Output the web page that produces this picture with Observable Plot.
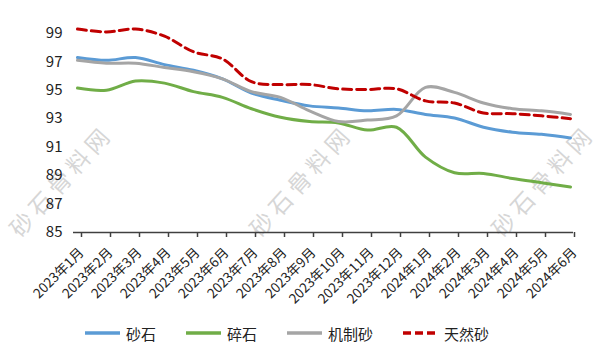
<!DOCTYPE html>
<html><head><meta charset="utf-8">
<script src="https://cdn.jsdelivr.net/npm/d3@7"></script>
<script src="https://cdn.jsdelivr.net/npm/@observablehq/plot@0.6"></script>
<style>
body{margin:0;background:#fff;font-family:"Noto Sans CJK SC","Noto Sans",sans-serif;}
#wrap{position:relative;width:600px;height:360px;overflow:hidden;background:#fff;}
#chart{position:absolute;left:0;top:0;}
.wm{position:absolute;font-size:23px;color:#d6d6d6;white-space:nowrap;letter-spacing:5px;transform-origin:center center;transform:translate(-50%,-50%) rotate(-48deg);pointer-events:none;}
#legend{position:absolute;left:-13px;top:320px;width:600px;height:26px;display:flex;justify-content:center;align-items:center;font-size:15px;color:#222;}
.item{display:flex;align-items:center;margin:0 15px;}
.item svg{margin-right:6px;}
</style></head>
<body>
<div id="wrap"><div id="chart"></div><div id="legend"></div></div>
<script>
const months = ["2023年1月","2023年2月","2023年3月","2023年4月","2023年5月","2023年6月","2023年7月","2023年8月","2023年9月","2023年10月","2023年11月","2023年12月","2024年1月","2024年2月","2024年3月","2024年4月","2024年5月","2024年6月"];
const seriesNames = ["砂石","碎石","机制砂","天然砂"];
const seriesColors = ["#5B9BD5","#70AD47","#A5A5A5","#C00000"];
const shashi = [97.3,97.1,97.3,96.8,96.4,95.8,94.8,94.3,93.9,93.75,93.55,93.65,93.3,93.05,92.4,92.05,91.9,91.65];
const suishi = [95.15,95.0,95.65,95.5,94.9,94.5,93.7,93.1,92.8,92.7,92.2,92.4,90.3,89.2,89.15,88.8,88.5,88.2];
const jizhisha = [97.1,96.9,96.9,96.6,96.3,95.8,94.9,94.5,93.55,92.8,92.9,93.2,95.2,94.85,94.1,93.7,93.55,93.3];
const tianransha = [99.3,99.1,99.3,98.8,97.7,97.2,95.6,95.4,95.4,95.1,95.05,95.1,94.25,94.1,93.4,93.35,93.2,93.0];
const yTicks = [85,87,89,91,93,95,97,99];
const watermark = "砂石骨料网";

const values = [shashi, suishi, jizhisha, tianransha];
const rows = [];
values.forEach((arr, s) => arr.forEach((v, i) => rows.push({month: months[i], value: v, series: seriesNames[s]})));

const H = 310;
const plot = Plot.plot({
  width: 600, height: H,
  marginLeft: 73, marginRight: 27, marginTop: 18.6, marginBottom: H - 232,
  style: {fontFamily: '"Noto Sans CJK SC","Noto Sans",sans-serif', fontSize: "14px", color: "#222", background: "transparent", overflow: "visible"},
  x: {type: "point", domain: months, padding: 0, label: null},
  y: {domain: [85, 100], label: null},
  color: {domain: seriesNames, range: seriesColors},
  marks: [
    Plot.axisY({ticks: yTicks, tickSize: 0, tickPadding: 11, fontSize: 15, label: null}),
    Plot.axisX({tickRotate: -45, tickSize: 5, tickPadding: 13, dx: 4, fontSize: 13.5, stroke: "#404040", strokeWidth: 1.5, label: null}),
    Plot.ruleY([85], {stroke: "#404040", strokeWidth: 1.5}),
    Plot.line(rows.filter(d => d.series !== "天然砂"), {x: "month", y: "value", z: "series", stroke: "series", strokeWidth: 3, curve: "catmull-rom"}),
    Plot.line(rows.filter(d => d.series === "天然砂"), {x: "month", y: "value", stroke: "series", strokeWidth: 3, strokeDasharray: "9,5", curve: "catmull-rom"})
  ]
});
document.getElementById("chart").appendChild(plot);

// legend
const legend = document.getElementById("legend");
seriesNames.forEach((name, i) => {
  const item = document.createElement("div");
  item.className = "item";
  const dash = i === 3 ? ' stroke-dasharray="8,4"' : '';
  item.innerHTML = `<svg width="35" height="10"><line x1="0" y1="5" x2="35" y2="5" stroke="${seriesColors[i]}" stroke-width="3.5"${dash}/></svg><span>${name}</span>`;
  legend.appendChild(item);
});

// faint watermark tiles (kept inside the frame)
const wrap = document.getElementById("wrap");
[[60,180],[300,180],[542,180]].forEach(([x,y]) => {
  const d = document.createElement("div");
  d.className = "wm";
  d.textContent = watermark;
  d.style.left = x + "px"; d.style.top = y + "px";
  wrap.insertBefore(d, wrap.firstChild);
});
</script>
</body></html>
